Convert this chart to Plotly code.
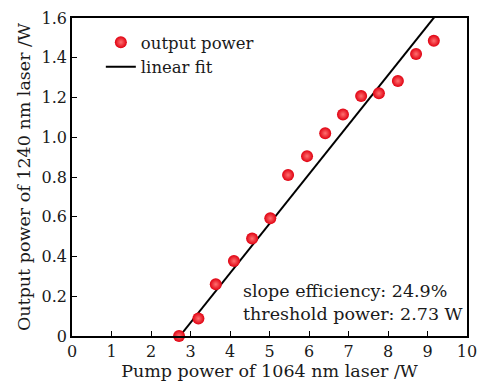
import plotly.graph_objects as go

pump_power = [2.71, 3.20, 3.64, 4.10, 4.56, 5.02, 5.47, 5.95, 6.41, 6.86, 7.32, 7.77, 8.25, 8.71, 9.16]
output_power = [0.0, 0.088, 0.26, 0.377, 0.49, 0.592, 0.81, 0.905, 1.02, 1.115, 1.207, 1.221, 1.283, 1.419, 1.485]
slope_efficiency = 0.249
threshold_power = 2.73
fit_x = [threshold_power, 10.0]
fit_y = [slope_efficiency * (x - threshold_power) for x in fit_x]

FONT = "DejaVu Serif"
TXT = "#1a1a1a"

fig = go.Figure()
fig.add_trace(go.Scatter(
    x=fit_x, y=fit_y, mode="lines", name="linear fit",
    line=dict(color="black", width=2),
))
fig.add_trace(go.Scatter(
    x=pump_power, y=output_power, mode="markers", name="output power",
    marker=dict(size=12, color="#e00010", line=dict(width=0),
                gradient=dict(type="radial", color="#ff7070")),
    cliponaxis=False,
))

fig.update_layout(
    width=478, height=385,
    margin=dict(l=72, r=11, t=18, b=49),
    paper_bgcolor="white", plot_bgcolor="white",
    font=dict(family=FONT, size=16, color=TXT),
    showlegend=True,
    legend=dict(x=0.073, y=0.978, xanchor="left", yanchor="top",
                bgcolor="rgba(0,0,0,0)", traceorder="reversed",
                font=dict(size=16.5), itemwidth=30, tracegroupgap=0),
    xaxis=dict(range=[0, 10], dtick=1, ticks="inside", ticklen=5, tickcolor="black",
               showline=True, linecolor="black", linewidth=1.5, mirror=True,
               showgrid=False, zeroline=False, automargin=False,
               title=dict(text="Pump power of 1064 nm laser /W", standoff=2, font=dict(size=17.5))),
    yaxis=dict(range=[0, 1.6], tickvals=[0, 0.2, 0.4, 0.6, 0.8, 1.0, 1.2, 1.4, 1.6],
               ticktext=["0", "0.2", "0.4", "0.6", "0.8", "1.0", "1.2", "1.4", "1.6"],
               ticks="inside", ticklen=5, tickcolor="black",
               showline=True, linecolor="black", linewidth=1.5, mirror=True,
               showgrid=False, zeroline=False, automargin=False,
               title=dict(text="Output power of 1240 nm laser /W", standoff=6, font=dict(size=17.5))),
    annotations=[dict(
        x=0.995, y=0.03, xref="paper", yref="paper", xanchor="right", yanchor="bottom",
        text=f"slope efficiency: {slope_efficiency*100:.1f}%<br>threshold power: {threshold_power:.2f} W",
        showarrow=False, align="left", font=dict(size=17.5),
    )],
)

fig.write_html(
    "out.html",
    config={"displayModeBar": False},
    post_script="document.body.style.margin='0';document.body.style.overflow='hidden';",
)
